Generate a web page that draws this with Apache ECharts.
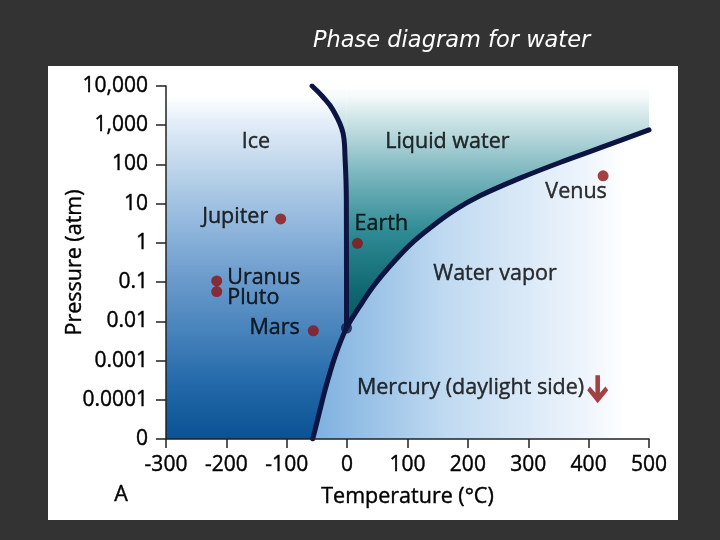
<!DOCTYPE html>
<html>
<head>
<meta charset="utf-8">
<script src="https://cdn.jsdelivr.net/npm/echarts@6/dist/echarts.min.js"></script>
<style>html,body{margin:0;padding:0;background:#333333;}#chart{width:720px;height:540px;}</style>
</head>
<body>
<div id="chart"></div>
<script>
// ---- data (pressure level = log10(atm) + 5, so tick index 0 is "0") ----
const yTickLabels = ['0', '0.0001', '0.001', '0.01', '0.1', '1', '10', '100', '1,000', '10,000'];
const xMin = -300, xMax = 500, xStep = 100;

// melting (ice / liquid) curve: [temperature °C, pressure level]
const meltingCurve = [[-58, 9.0], [-40, 8.72], [-23.4, 8.39], [-6.8, 7.80], [-3.5, 7.19], [-1.3, 6.09], [-1, 2.83]];
// sublimation + boiling curve
const vaporCurve = [[-57, 0], [-50.4, 0.40], [-36.6, 1.25], [-20.1, 2.10], [-1, 2.83], [24.6, 3.47], [46.2, 3.95], [71, 4.41], [104.1, 4.95], [137.3, 5.38], [178.7, 5.84], [220.1, 6.20], [286.3, 6.65], [352.6, 7.05], [418.8, 7.42], [500, 7.88]];
const triplePoint = [-1, 2.83];

const planetNames = ['Jupiter', 'Earth', 'Uranus', 'Pluto', 'Mars', 'Venus'];
const planetTemps = [-110, 17, -216, -216, -56, 424];
const planetLevels = [5.61, 4.99, 4.03, 3.76, 2.76, 6.71];

const mercuryName = 'Mercury (daylight side)';
const mercuryTemp = 415;
const mercuryLevel = 1.27;

const regionNames = ['Ice', 'Liquid water', 'Water vapor'];
const regionTemps = [-151, 166, 245];
const regionLevels = [7.57, 7.57, 4.22];

// ---- chart ----
const chart = echarts.init(document.getElementById('chart'));
const G = echarts.graphic.LinearGradient;
const FONT = '"Open Sans"';
const TXT = '#000000';
const NAVY = '#0c1541';
const RED = '#8e1212';

const iceGrad = new G(0, 86, 0, 439, [
  {offset: 0, color: '#ffffff'}, {offset: 0.03, color: '#ffffff'}, {offset: 0.1, color: '#e4eef8'},
  {offset: 0.3, color: '#aac8e4'}, {offset: 0.4, color: '#90b6dc'}, {offset: 0.55, color: '#6a9acb'},
  {offset: 0.7, color: '#4682bb'}, {offset: 0.85, color: '#2268a8'}, {offset: 1, color: '#0a5294'}], true);
const liquidGrad = new G(0, 86, 0, 330, [
  {offset: 0, color: '#ffffff'}, {offset: 0.04, color: '#f6fafa'}, {offset: 0.12, color: '#d4e8ea'},
  {offset: 0.35, color: '#7fb8c0'}, {offset: 0.6, color: '#2e8a94'}, {offset: 0.85, color: '#0f6670'},
  {offset: 1, color: '#0a5862'}], true);
const vaporGrad = new G(310, 0, 650, 0, [
  {offset: 0, color: '#7cafdf'}, {offset: 0.4, color: '#c0daf1'}, {offset: 0.8, color: '#edf4fc'},
  {offset: 0.93, color: '#ffffff'}, {offset: 1, color: '#ffffff'}], true);

const labelPlacement = {
  Jupiter: {position: 'left', distance: 7, offset: [0, -2]},
  Earth: {position: 'top', distance: 5, offset: [24, 2]},
  Uranus: {position: 'right', distance: 5, offset: [0, -3]},
  Pluto: {position: 'right', distance: 5, offset: [0, 6]},
  Mars: {position: 'left', distance: 8, offset: [0, -3]},
  Venus: {position: 'bottom', distance: 0, offset: [-27, 0]}
};

const planetData = planetNames.map((n, i) => ({
  name: n, value: [planetTemps[i], planetLevels[i]],
  label: Object.assign({show: true, formatter: n}, labelPlacement[n])
}));

const ink = {textBorderColor: TXT, textBorderWidth: 0.4};
const textStyle = Object.assign({fontFamily: FONT, fontSize: 21.5, color: TXT}, ink);
const tickStyle = Object.assign({fontFamily: FONT, fontSize: 21, color: TXT}, ink);
const hidden = {width: 0, opacity: 0};

const option = {
  backgroundColor: '#333333',
  animation: false,
  graphic: [
    {type: 'rect', z: -10, shape: {x: 48, y: 66, width: 630, height: 454}, style: {fill: '#ffffff'}},
    {type: 'text', left: 313, top: 30, style: {text: 'Phase diagram for water', fill: '#ffffff',
      font: 'italic 22.5px "DejaVu Sans"'}},
    {type: 'text', left: 114, top: 484, style: {text: 'A', fill: TXT, stroke: TXT, lineWidth: 0.4, font: '21.5px "Open Sans"'}}
  ],
  grid: {left: 166, right: 71, top: 86, bottom: 101},
  xAxis: {
    type: 'value', min: xMin, max: xMax, interval: xStep, z: 10,
    name: 'Temperature (°C)', nameLocation: 'middle', nameGap: 47, nameMoveOverlap: false,
    nameTextStyle: textStyle,
    axisLine: {show: true, onZero: false, lineStyle: {color: '#222', width: 1.5}},
    axisTick: {show: true, length: 9, lineStyle: {color: '#222', width: 1.5}},
    axisLabel: Object.assign({margin: 16}, tickStyle),
    splitLine: {show: false}
  },
  yAxis: {
    type: 'value', min: 0, max: yTickLabels.length - 1, interval: 1, z: 10,
    name: 'Pressure (atm)', nameLocation: 'middle', nameGap: 80, nameMoveOverlap: false,
    nameTextStyle: textStyle,
    axisLine: {show: true, onZero: false, lineStyle: {color: '#222', width: 1.5}},
    axisTick: {show: true, length: 10, lineStyle: {color: '#222', width: 1.5}},
    axisLabel: Object.assign({margin: 18, formatter: v => yTickLabels[Math.round(v)]}, tickStyle),
    splitLine: {show: false}
  },
  series: [
    {type: 'line', silent: true, symbol: 'none', showSymbol: false, z: 1,
      data: [[xMin, yTickLabels.length - 1], [xMax, yTickLabels.length - 1]],
      lineStyle: hidden, areaStyle: {origin: 'start', color: iceGrad, opacity: 1}},
    {type: 'line', silent: true, symbol: 'none', showSymbol: false, z: 2,
      data: [[triplePoint[0], yTickLabels.length - 1], [xMax, yTickLabels.length - 1]],
      lineStyle: hidden, areaStyle: {origin: 'start', color: liquidGrad, opacity: 1}},
    {type: 'line', silent: true, symbol: 'none', showSymbol: false, z: 3, data: meltingCurve,
      smooth: 0.4,
      lineStyle: {width: 5, color: NAVY, cap: 'round', join: 'round'},
      areaStyle: {origin: 'end', color: liquidGrad, opacity: 1}},
    {type: 'line', silent: true, symbol: 'none', showSymbol: false, z: 4, data: vaporCurve,
      smooth: 0.3,
      lineStyle: {width: 5, color: NAVY, cap: 'round', join: 'round'},
      areaStyle: {origin: 'start', color: vaporGrad, opacity: 1}},
    {type: 'scatter', silent: true, z: 5, symbolSize: 11, itemStyle: {color: NAVY}, data: [triplePoint]},
    {type: 'scatter', silent: true, z: 6, symbolSize: 11, itemStyle: {color: RED},
      label: textStyle, data: planetData},
    {type: 'scatter', silent: true, z: 6, symbol: 'path://M8,0 L13,0 L13,17 L19,11 L22,14.5 L10.5,27 L-1,14.5 L2,11 L8,17 Z',
      symbolSize: [21, 28], itemStyle: {color: RED},
      label: Object.assign({show: true, position: 'left', distance: 3, offset: [0, -1], formatter: mercuryName}, textStyle),
      data: [[mercuryTemp, mercuryLevel]]},
    {type: 'scatter', silent: true, z: 6, symbolSize: 0,
      label: Object.assign({show: true, position: 'inside', formatter: p => p.name}, textStyle),
      data: regionNames.map((n, i) => ({name: n, value: [regionTemps[i], regionLevels[i]]}))}
  ]
};
chart.setOption(option);
</script>
</body>
</html>
